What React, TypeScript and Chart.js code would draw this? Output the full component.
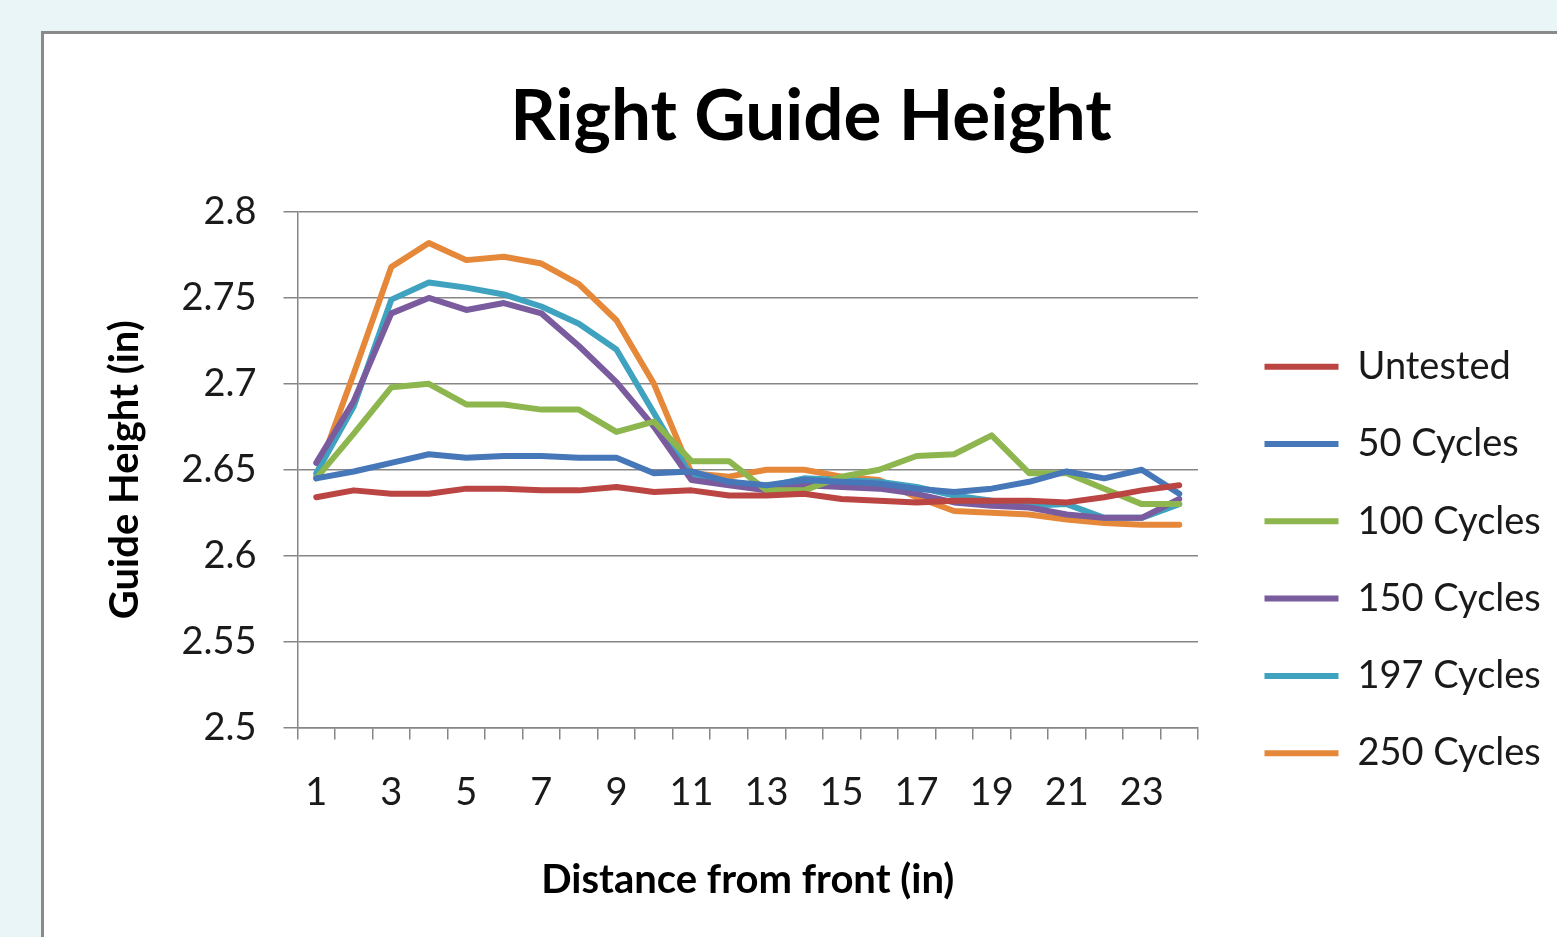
import React, { useEffect, useRef } from "react";
import { Chart, registerables } from "chart.js";

Chart.register(...registerables);

const categories = ["1","2","3","4","5","6","7","8","9","10","11","12","13","14","15","16","17","18","19","20","21","22","23","24"];

const untested = [2.634, 2.638, 2.636, 2.636, 2.639, 2.639, 2.638, 2.638, 2.640, 2.637, 2.638, 2.635, 2.635, 2.636, 2.633, 2.632, 2.631, 2.632, 2.632, 2.632, 2.631, 2.634, 2.638, 2.641];
const cycles50 = [2.645, 2.649, 2.654, 2.659, 2.657, 2.658, 2.658, 2.657, 2.657, 2.648, 2.649, 2.643, 2.641, 2.644, 2.643, 2.642, 2.639, 2.637, 2.639, 2.643, 2.649, 2.645, 2.650, 2.636];
const cycles100 = [2.645, 2.671, 2.698, 2.700, 2.688, 2.688, 2.685, 2.685, 2.672, 2.678, 2.655, 2.655, 2.638, 2.638, 2.646, 2.650, 2.658, 2.659, 2.670, 2.648, 2.648, 2.639, 2.630, 2.630];
const cycles150 = [2.654, 2.690, 2.741, 2.750, 2.743, 2.747, 2.741, 2.722, 2.701, 2.675, 2.644, 2.641, 2.638, 2.641, 2.640, 2.639, 2.636, 2.631, 2.629, 2.628, 2.624, 2.622, 2.622, 2.633];
const cycles197 = [2.648, 2.687, 2.749, 2.759, 2.756, 2.752, 2.745, 2.735, 2.720, 2.683, 2.646, 2.643, 2.640, 2.645, 2.644, 2.643, 2.640, 2.635, 2.632, 2.629, 2.630, 2.622, 2.622, 2.630];
const cycles250 = [2.646, 2.706, 2.768, 2.782, 2.772, 2.774, 2.770, 2.758, 2.737, 2.700, 2.648, 2.646, 2.650, 2.650, 2.646, 2.644, 2.634, 2.626, 2.625, 2.624, 2.621, 2.619, 2.618, 2.618];

const seriesNames = ["Untested", "50 Cycles", "100 Cycles", "150 Cycles", "197 Cycles", "250 Cycles"];
const seriesColors = ["#BA4542", "#4677B8", "#8DB64E", "#7A5C9E", "#3FA3C0", "#E5883A"];
const seriesValues = [untested, cycles50, cycles100, cycles150, cycles197, cycles250];

const yMin = 2.5;
const yMax = 2.8;
const yStep = 0.05;

const W = 1557;
const H = 937;
const PLOT_LEFT = 297.5;
const PLOT_RIGHT = 1198;
const PLOT_BOTTOM = 727.5;
const TITLE_CENTER = 811;
const YTITLE_X = 125;
const LEGEND_FONT = 38;
const LEGEND_PAD = 39.3;
const LEGEND_LINE = 74;
const LEGEND_LEFT = 1264.5 - LEGEND_PAD;
const LEGEND_TOP = 308.4;
const AXIS_TITLE_FONT = 40;

const FONT = "Lato, 'Open Sans', 'DejaVu Sans', sans-serif";
const GRID = "#868686";

const legendPlace = {
  id: "legendPlace",
  afterLayout(chart: any) {
    const lg = chart.legend;
    if (!lg) return;
    const dx = LEGEND_LEFT - lg.left;
    const dy = LEGEND_TOP - lg.top;
    lg.left += dx;
    lg.right += dx;
    lg.top += dy;
    lg.bottom += dy;
  },
};

export default function App() {
  const ref = useRef<HTMLCanvasElement | null>(null);

  useEffect(() => {
    if (!ref.current) return;
    Chart.defaults.font.family = FONT;
    Chart.defaults.color = "#1a1a1a";

    const mctx = document.createElement("canvas").getContext("2d") as CanvasRenderingContext2D;
    mctx.font = `${LEGEND_FONT}px ${FONT}`;
    const maxText = Math.max(...seriesNames.map((n) => mctx.measureText(n).width));
    const legendW = LEGEND_PAD + LEGEND_LINE + LEGEND_FONT / 2 + maxText + 10;
    const padRight = W - PLOT_RIGHT - legendW;
    const padLeft = padRight + (2 * TITLE_CENTER - W);
    const yTitleLH = AXIS_TITLE_FONT * 1.2;

    const chart = new Chart(ref.current, {
      type: "line",
      data: {
        labels: categories,
        datasets: seriesNames.map((name, i) => ({
          label: name,
          data: seriesValues[i],
          borderColor: seriesColors[i],
          backgroundColor: seriesColors[i],
          borderWidth: 6,
          pointRadius: 0,
          pointHoverRadius: 0,
          tension: 0,
          borderJoinStyle: "round" as const,
          borderCapStyle: "round" as const,
          fill: false,
        })),
      },
      options: {
        animation: false,
        responsive: false,
        events: [],
        layout: { padding: { left: padLeft, right: padRight, top: 0, bottom: 0 } },
        plugins: {
          title: {
            display: true,
            text: "Right Guide Height",
            color: "#000",
            font: { family: FONT, size: 71, weight: "bold" },
            padding: { top: 74.4, bottom: 52.4 },
          },
          legend: {
            position: "right",
            align: "start",
            labels: {
              usePointStyle: true,
              pointStyle: "line",
              pointStyleWidth: LEGEND_LINE,
              padding: LEGEND_PAD,
              color: "#1a1a1a",
              font: { family: FONT, size: LEGEND_FONT },
            },
          },
          tooltip: { enabled: false },
        },
        scales: {
          x: {
            type: "category",
            offset: true,
            grid: {
              offset: true,
              drawOnChartArea: false,
              drawTicks: true,
              tickLength: 12,
              color: GRID,
              lineWidth: 1.5,
            },
            border: { display: true, color: GRID, width: 1.5 },
            ticks: {
              autoSkip: false,
              maxRotation: 0,
              minRotation: 0,
              padding: 30,
              color: "#1a1a1a",
              font: { family: FONT, size: 38 },
              callback: (_v: any, i: number) => (i % 2 === 0 ? categories[i] : ""),
            },
            title: {
              display: true,
              text: "Distance from front (in)",
              color: "#000",
              font: { family: FONT, size: AXIS_TITLE_FONT, weight: "bold" },
              padding: { top: 0, bottom: 33 },
            },
            afterFit: (s: any) => {
              s.height = H - PLOT_BOTTOM;
            },
          },
          y: {
            min: yMin,
            max: yMax,
            ticks: {
              stepSize: yStep,
              padding: 27,
              color: "#1a1a1a",
              font: { family: FONT, size: 38 },
              callback: (v: any) => String(Math.round(Number(v) * 100) / 100),
            },
            grid: { color: GRID, lineWidth: 1.5, tickLength: 14, drawTicks: true },
            border: { display: true, color: GRID, width: 1.5 },
            title: {
              display: true,
              text: "Guide Height (in)",
              color: "#000",
              font: { family: FONT, size: AXIS_TITLE_FONT, weight: "bold" },
              padding: { top: YTITLE_X - padLeft - yTitleLH / 2, bottom: 0 },
            },
            afterFit: (s: any) => {
              s.width = PLOT_LEFT - padLeft;
            },
          },
        },
      },
      plugins: [legendPlace],
    } as any);
    return () => chart.destroy();
  }, []);

  return (
    <div style={{ position: "fixed", left: 0, top: 0, width: W, height: H, overflow: "hidden", background: "#EAF5F8" }}>
      <div
        style={{
          position: "absolute",
          left: 41,
          top: 31,
          width: 1700,
          height: 1200,
          background: "#ffffff",
          border: "3px solid #8a8a8a",
          boxSizing: "border-box",
        }}
      />
      <canvas ref={ref} width={W} height={H} style={{ position: "absolute", left: 0, top: 0, width: W, height: H }} />
    </div>
  );
}
